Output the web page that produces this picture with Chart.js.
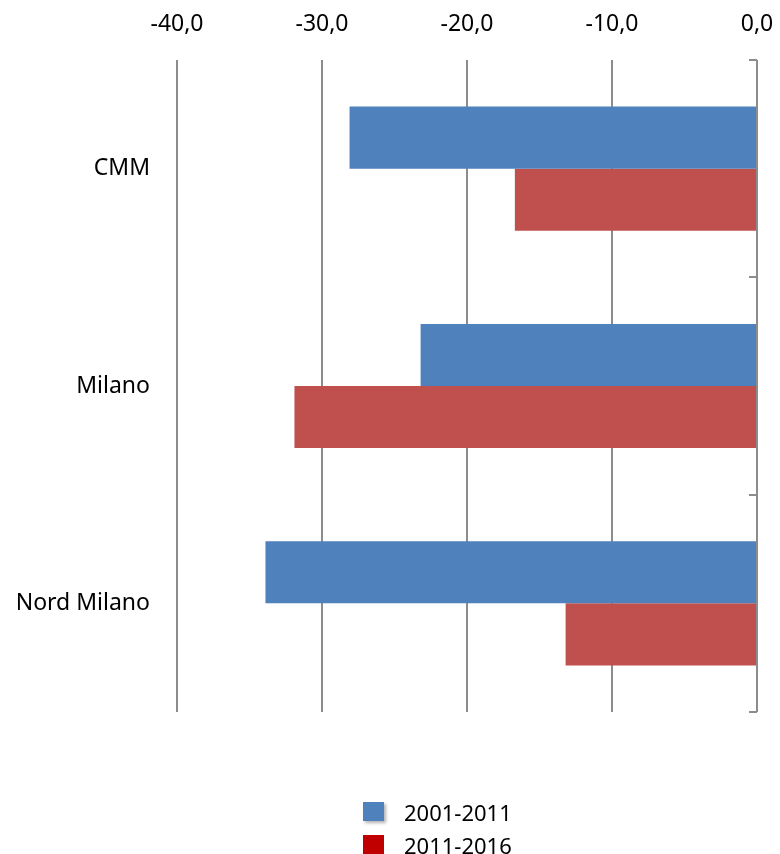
<!DOCTYPE html>
<html>
<head>
<meta charset="utf-8">
<script src="https://cdn.jsdelivr.net/npm/chart.js@4/dist/chart.umd.min.js"></script>
<style>
  html, body { margin: 0; padding: 0; background: #fff; }
  #wrap { position: relative; width: 780px; height: 854px; }
  #legend { position: absolute; left: 363px; top: 795px; font-family: "Noto Sans", sans-serif; font-size: 22px; color: #000; }
  .item { display: flex; align-items: center; height: 33px; }
  .box { width: 21px; height: 19px; margin-right: 20px; }
</style>
</head>
<body>
<div id="wrap">
  <canvas id="chart" width="780" height="854"></canvas>
  <div id="legend"></div>
</div>
<script>
// categories and series
const categories = ["CMM", "Milano", "Nord Milano"];
const seriesNames = ["2001-2011", "2011-2016"];
const values2001 = [-28.1, -23.2, -33.9];
const values2011 = [-16.7, -31.9, -13.2];
const tickValues = [-40, -30, -20, -10, 0];

const barColors = ["#4F81BD", "#C0504D"];
const legendColors = ["#4F81BD", "#C00000"];
const gridColor = "#8c8c8c";
const font = { family: "Noto Sans", size: 23 };

// small tick marks on the zero axis between categories
const axisTicks = {
    id: "axisTicks",
    afterDraw(chart) {
        const ctx = chart.ctx;
        const y = chart.scales.y;
        const x0 = chart.scales.x.getPixelForValue(0);
        const step = (y.bottom - y.top) / categories.length;
        ctx.save();
        ctx.strokeStyle = gridColor;
        ctx.lineWidth = 2;
        for (let i = 0; i <= categories.length; i++) {
            const py = Math.round(y.top + i * step);
            ctx.beginPath();
            ctx.moveTo(x0 - 8, py);
            ctx.lineTo(x0, py);
            ctx.stroke();
        }
        ctx.restore();
    }
};

new Chart(document.getElementById("chart"), {
    type: "bar",
    data: {
        labels: categories,
        datasets: [
            { label: seriesNames[0], data: values2001, backgroundColor: barColors[0] },
            { label: seriesNames[1], data: values2011, backgroundColor: barColors[1] }
        ]
    },
    options: {
        indexAxis: "y",
        responsive: false,
        animation: false,
        devicePixelRatio: 1,
        layout: { padding: { top: 0, right: 23, bottom: 142, left: 0 } },
        datasets: { bar: { categoryPercentage: 0.571, barPercentage: 1 } },
        plugins: { legend: { display: false }, tooltip: { enabled: false } },
        scales: {
            x: {
                position: "top",
                min: -40,
                max: 0,
                afterBuildTicks: s => { s.ticks = tickValues.map(v => ({ value: v })); },
                afterFit: s => { s.height = 60; s.paddingRight = 0; s.paddingLeft = 0; },
                ticks: {
                    color: "#000",
                    font: font,
                    padding: 22,
                    maxRotation: 0,
                    callback: v => v.toFixed(1).replace(".", ",")
                },
                grid: { color: gridColor, lineWidth: 2, drawTicks: false },
                border: { display: false }
            },
            y: {
                afterFit: s => { s.width = 177; s.paddingTop = 0; s.paddingBottom = 0; },
                ticks: { color: "#000", font: font, padding: 27 },
                grid: { display: false, drawTicks: false },
                border: { display: false }
            }
        }
    },
    plugins: [axisTicks]
});

const legend = document.getElementById("legend");
seriesNames.forEach((name, i) => {
    const item = document.createElement("div");
    item.className = "item";
    const box = document.createElement("span");
    box.className = "box";
    box.style.background = legendColors[i];
    if (i === 0) box.style.boxShadow = "2px 2px 3px rgba(0,0,0,0.3)";
    const txt = document.createElement("span");
    txt.textContent = name;
    item.appendChild(box);
    item.appendChild(txt);
    legend.appendChild(item);
});
</script>
</body>
</html>
